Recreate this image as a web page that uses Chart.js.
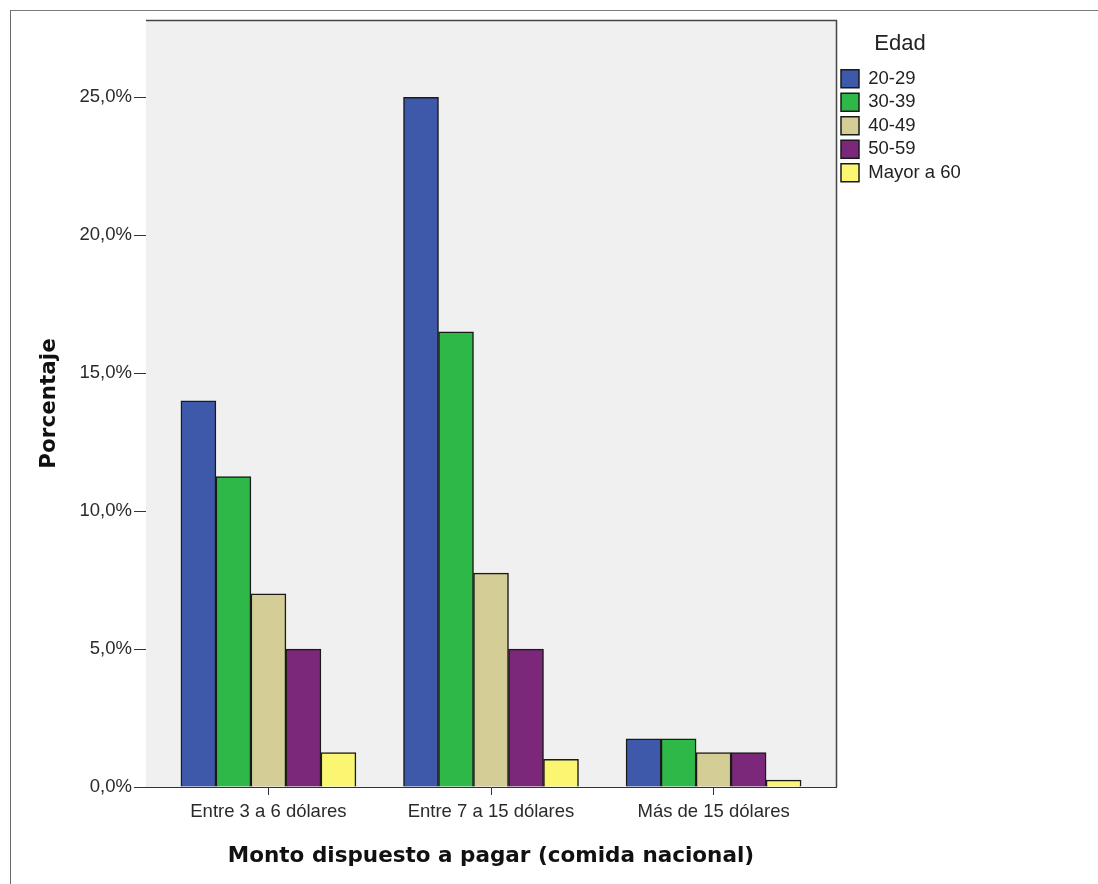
<!DOCTYPE html>
<html lang="es">
<head>
<meta charset="utf-8">
<title>Monto dispuesto a pagar (comida nacional)</title>
<script src="https://cdn.jsdelivr.net/npm/chart.js@4.4.1/dist/chart.umd.min.js"></script>
<style>
  html, body { margin: 0; padding: 0; background: #ffffff; overflow: hidden; }
  #wrap { position: relative; width: 1098px; height: 884px; }
  #frame { position: absolute; left: 10px; top: 10px; right: 0; bottom: 0;
           border-left: 1px solid #6a6a6a; border-top: 1px solid #7a7a7a; pointer-events: none; }
</style>
</head>
<body>
<div id="wrap">
  <canvas id="chart"></canvas>
  <div id="frame"></div>
</div>
<script>
// Categories on the x axis
const categories = ['Entre 3 a 6 dólares', 'Entre 7 a 15 dólares', 'Más de 15 dólares'];

// Age groups (legend entries)
const ageGroups = ['20-29', '30-39', '40-49', '50-59', 'Mayor a 60'];

// Percentage per category, one array per age group
const pct20_29 = [14.0, 25.0, 1.75];
const pct30_39 = [11.25, 16.5, 1.75];
const pct40_49 = [7.0, 7.75, 1.25];
const pct50_59 = [5.0, 5.0, 1.25];
const pctMayor60 = [1.25, 1.0, 0.25];

// Y tick values
const yTicks = [0, 5, 10, 15, 20, 25];

const seriesValues = [pct20_29, pct30_39, pct40_49, pct50_59, pctMayor60];
const seriesColors = ['#3e58aa', '#2eb848', '#d4ce96', '#7c287a', '#faf672'];

const datasets = ageGroups.map((name, i) => ({
  label: name,
  data: seriesValues[i].map((v, c) => ({ x: c, y: v })),
  backgroundColor: seriesColors[i],
  borderColor: '#1a1a1a',
  borderWidth: 1.5,
  barThickness: 35
}));

// Grey plot background and frame around the plotting area
const plotFrame = {
  id: 'plotFrame',
  beforeDatasetsDraw(chart) {
    const { ctx, chartArea: a } = chart;
    ctx.save();
    ctx.fillStyle = '#f0f0f0';
    ctx.fillRect(a.left, a.top, a.right - a.left, a.bottom - a.top);
    ctx.restore();
  },
  afterDatasetsDraw(chart) {
    const { ctx, chartArea: a } = chart;
    ctx.save();
    ctx.strokeStyle = '#444444';
    ctx.lineWidth = 1.5;
    ctx.beginPath();
    ctx.moveTo(a.left, a.top + 0.5);
    ctx.lineTo(a.right + 0.5, a.top + 0.5);
    ctx.lineTo(a.right + 0.5, a.bottom);
    ctx.stroke();
    ctx.restore();
  }
};

const tickFont = { family: '"Liberation Sans", Arial, sans-serif', size: 18.5 };
const titleFont = { family: '"DejaVu Sans", sans-serif', size: 21.5, weight: 'bold' };

new Chart(document.getElementById('chart'), {
  type: 'bar',
  data: { datasets },
  plugins: [plotFrame],
  options: {
    responsive: true,
    maintainAspectRatio: false,
    animation: false,
    layout: { padding: { left: 0, top: 20, right: 134, bottom: 0 } },
    scales: {
      x: {
        type: 'linear',
        min: -0.55,
        max: 2.55,
        offset: false,
        afterBuildTicks(scale) { scale.ticks = categories.map((_, i) => ({ value: i })); },
        afterFit(scale) { scale.height = 97; },
        ticks: {
          autoSkip: false,
          maxRotation: 0,
          padding: 6,
          color: '#2a2a2a',
          font: tickFont,
          callback: (v) => categories[v]
        },
        grid: { display: true, offset: false, drawOnChartArea: false, drawTicks: true, tickLength: 8, color: '#333333' },
        border: { display: true, color: '#333333', width: 1 },
        title: {
          display: true,
          text: 'Monto dispuesto a pagar (comida nacional)',
          color: '#111111',
          font: titleFont,
          padding: { top: 0, bottom: 15 }
        }
      },
      y: {
        min: 0,
        max: 27.8,
        afterBuildTicks(scale) { scale.ticks = yTicks.map(v => ({ value: v })); },
        afterFit(scale) { scale.width = 146; },
        ticks: {
          padding: 2,
          color: '#2a2a2a',
          font: tickFont,
          callback: (v) => v.toFixed(1).replace('.', ',') + '%'
        },
        grid: { display: true, drawOnChartArea: false, drawTicks: true, tickLength: 12, color: '#333333' },
        border: { display: true, color: '#333333', width: 1 },
        title: {
          display: true,
          text: 'Porcentaje',
          color: '#111111',
          font: titleFont,
          padding: { top: 37, bottom: 0 }
        }
      }
    },
    plugins: {
      legend: {
        position: 'right',
        align: 'start',
        maxWidth: 128,
        title: {
          display: true,
          text: 'Edad',
          color: '#222222',
          position: 'center',
          font: { family: '"Liberation Sans", Arial, sans-serif', size: 22 },
          padding: { top: 13, bottom: 5 }
        },
        labels: {
          boxWidth: 18,
          boxHeight: 18,
          padding: 5,
          color: '#222222',
          font: tickFont
        }
      },
      tooltip: { enabled: false }
    }
  }
});
</script>
</body>
</html>
